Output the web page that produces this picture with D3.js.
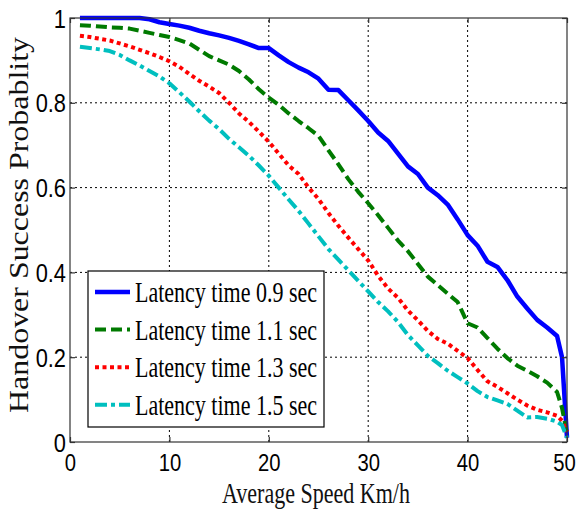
<!DOCTYPE html>
<html>
<head>
<meta charset="utf-8">
<script src="https://cdn.jsdelivr.net/npm/d3@7"></script>
<style>
  html, body { margin: 0; padding: 0; background: #fff; }
  svg { display: block; }
</style>
</head>
<body>
<div id="chart"></div>
<script>
// speed (km/h) samples shared by all series
const speeds = [1,2,3,4,5,6,7,8,9,10,11,12,13,14,15,16,17,18,19,20,21,22,23,24,25,26,27,28,29,30,
  31,32,33,34,35,36,37,38,39,40,41,42,43,44,45,46,47,48,49,49.5,50];

const latency09 = [1.0,1.0,1.0,1.0,1.0,1.0,1.0,0.997,0.99,0.986,0.982,0.977,0.97,0.964,0.959,0.953,0.946,0.938,0.929,0.929,
  0.912,0.896,0.883,0.872,0.857,0.831,0.83,0.806,0.782,0.757,0.73,0.71,0.68,0.65,0.632,0.6,0.582,0.56,0.525,0.488,
  0.463,0.425,0.413,0.382,0.343,0.315,0.288,0.27,0.25,0.2,0.01];
const latency11 = [0.983,0.982,0.98,0.978,0.977,0.975,0.97,0.965,0.96,0.955,0.948,0.94,0.925,0.91,0.9,0.89,0.875,0.855,0.832,0.812,
  0.795,0.775,0.757,0.74,0.722,0.688,0.655,0.62,0.59,0.563,0.535,0.505,0.475,0.45,0.42,0.39,0.37,0.35,0.33,0.28,
  0.27,0.245,0.22,0.198,0.18,0.168,0.155,0.14,0.118,0.08,0.02];
const latency13 = [0.958,0.955,0.951,0.947,0.94,0.933,0.925,0.917,0.908,0.898,0.885,0.868,0.852,0.838,0.823,0.8,0.775,0.755,0.732,0.708,
  0.68,0.652,0.632,0.6,0.573,0.54,0.51,0.482,0.455,0.428,0.392,0.362,0.34,0.31,0.287,0.262,0.243,0.232,0.215,0.198,
  0.17,0.143,0.13,0.115,0.1,0.086,0.076,0.07,0.062,0.05,0.024];
const latency15 = [0.932,0.929,0.926,0.922,0.913,0.9,0.888,0.875,0.862,0.846,0.825,0.803,0.78,0.758,0.738,0.715,0.695,0.675,0.652,0.628,
  0.6,0.572,0.545,0.515,0.485,0.455,0.43,0.405,0.38,0.355,0.33,0.308,0.283,0.252,0.228,0.203,0.186,0.168,0.153,0.138,
  0.12,0.106,0.098,0.09,0.074,0.058,0.059,0.055,0.048,0.04,0.01];

const seriesNames = ["Latency time 0.9 sec", "Latency time 1.1 sec", "Latency time 1.3 sec", "Latency time 1.5 sec"];
const xTicks = [0, 10, 20, 30, 40, 50];
const yTicks = [0, 0.2, 0.4, 0.6, 0.8, 1];
const yTickLabels = ["0", "0.2", "0.4", "0.6", "0.8", "1"];

const styles = [
  { color: "#0000ff", width: 4.5, dash: null },
  { color: "#007a00", width: 4,   dash: "11,5" },
  { color: "#ff0000", width: 4,   dash: "4,3.5" },
  { color: "#00bfbf", width: 4,   dash: "12,4,4,4" }
];

const W = 579, H = 512;
const margin = { left: 70, right: 12, top: 18, bottom: 70 };

const svg = d3.select("#chart").append("svg").attr("width", W).attr("height", H);

const x = d3.scaleLinear().domain([0, 50]).range([margin.left, W - margin.right]);
const y = d3.scaleLinear().domain([0, 1]).range([H - margin.bottom, margin.top]);

// squeeze text to a target width (the source image is horizontally compressed)
function squeeze(sel, factor) {
  sel.each(function() {
    const len = this.getComputedTextLength();
    d3.select(this).attr("textLength", len * factor).attr("lengthAdjust", "spacingAndGlyphs");
  });
}

// grid
const grid = svg.append("g").attr("class", "grid")
  .attr("stroke", "#000").attr("stroke-width", 1).attr("stroke-dasharray", "2,3");
grid.selectAll("line.v").data(xTicks.slice(1, -1)).join("line").attr("class", "v")
  .attr("x1", d => x(d)).attr("x2", d => x(d)).attr("y1", y(0)).attr("y2", y(1));
grid.selectAll("line.h").data(yTicks.slice(1, -1)).join("line").attr("class", "h")
  .attr("x1", x(0)).attr("x2", x(50)).attr("y1", d => y(d)).attr("y2", d => y(d));

// series
const allSeries = [latency09, latency11, latency13, latency15];
const line = d3.line().x((d, i) => x(speeds[i])).y(d => y(d));
svg.append("g").selectAll("path").data(allSeries).join("path")
  .attr("fill", "none")
  .attr("d", line)
  .attr("stroke", (d, i) => styles[i].color)
  .attr("stroke-width", (d, i) => styles[i].width)
  .attr("stroke-dasharray", (d, i) => styles[i].dash)
  .attr("stroke-linejoin", "round");

// box
svg.append("rect")
  .attr("x", x(0)).attr("y", y(1)).attr("width", x(50) - x(0)).attr("height", y(0) - y(1))
  .attr("fill", "none").attr("stroke", "#333").attr("stroke-width", 1.2);

// axes with inward ticks
const xAxis = svg.append("g").attr("transform", `translate(0,${y(0)})`)
  .call(d3.axisBottom(x).tickValues(xTicks).tickFormat(d3.format("d")).tickSizeInner(-5).tickSizeOuter(0));
const yAxis = svg.append("g").attr("transform", `translate(${x(0)},0)`)
  .call(d3.axisLeft(y).tickValues(yTicks).tickFormat((d, i) => yTickLabels[i]).tickSizeInner(-5).tickSizeOuter(0));
svg.append("g").attr("transform", `translate(0,${y(1)})`)
  .call(d3.axisTop(x).tickValues(xTicks).tickFormat("").tickSizeInner(-5).tickSizeOuter(0));
svg.append("g").attr("transform", `translate(${x(50)},0)`)
  .call(d3.axisRight(y).tickValues(yTicks).tickFormat("").tickSizeInner(-5).tickSizeOuter(0));
svg.selectAll(".domain").remove();
svg.selectAll(".tick line").attr("stroke", "#333").attr("stroke-width", 1.2);

xAxis.selectAll("text")
  .attr("y", 21).attr("dy", "0.35em")
  .attr("x", d => d === 50 ? -3 : 0)
  .style("font-family", "'Liberation Sans', Arial, sans-serif").style("font-size", "23px").attr("fill", "#000");
yAxis.selectAll("text")
  .attr("x", -4).attr("dy", "0.35em")
  .style("font-family", "'Liberation Sans', Arial, sans-serif").style("font-size", "26px").attr("fill", "#000");
squeeze(xAxis.selectAll("text"), 0.88);
squeeze(yAxis.selectAll("text"), 0.84);

// axis titles
svg.append("text")
  .attr("x", 316).attr("y", 503).attr("text-anchor", "middle")
  .style("font-family", "'Liberation Serif', 'Times New Roman', serif").style("font-size", "30px")
  .attr("fill", "#111")
  .attr("textLength", 188).attr("lengthAdjust", "spacingAndGlyphs")
  .text("Average Speed Km/h");

svg.append("text")
  .attr("transform", "translate(28,225) rotate(-90)")
  .attr("text-anchor", "middle")
  .style("font-family", "'Liberation Serif', 'Times New Roman', serif").style("font-size", "27px")
  .attr("fill", "#111")
  .attr("textLength", 376).attr("lengthAdjust", "spacingAndGlyphs")
  .text("Handover Success Probablity");

// legend
const legend = svg.append("g").attr("transform", "translate(88,271)");
legend.append("rect").attr("width", 236).attr("height", 156)
  .attr("fill", "#fff").attr("stroke", "#000").attr("stroke-width", 1.2);
const rows = legend.selectAll("g.row").data(seriesNames).join("g").attr("class", "row")
  .attr("transform", (d, i) => `translate(0,${21 + i * 37.6})`);
rows.append("line")
  .attr("x1", 7).attr("x2", 42).attr("y1", 0).attr("y2", 0)
  .attr("stroke", (d, i) => styles[i].color)
  .attr("stroke-width", (d, i) => styles[i].width)
  .attr("stroke-dasharray", (d, i) => styles[i].dash);
rows.append("text")
  .attr("x", 47).attr("y", 10)
  .style("font-family", "'Liberation Serif', 'Times New Roman', serif").style("font-size", "29px")
  .attr("fill", "#000")
  .attr("textLength", 182).attr("lengthAdjust", "spacingAndGlyphs")
  .text(d => d);
</script>
</body>
</html>
